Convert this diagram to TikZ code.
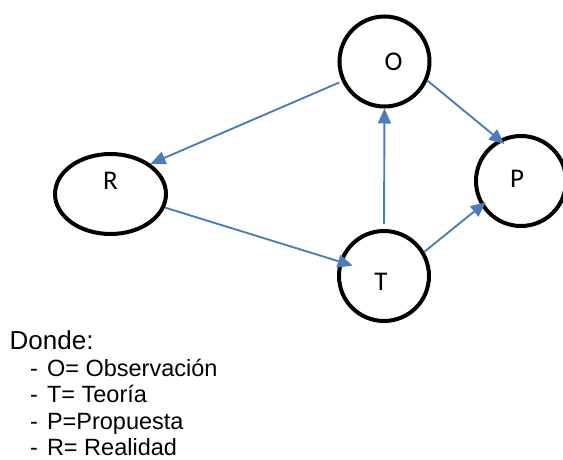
\documentclass[tikz,border=0pt]{standalone}
\usepackage{fontspec}
\setmainfont{Liberation Sans}
\newfontfamily\labelfont{Carlito}
\usetikzlibrary{shapes.geometric,arrows.meta}
\definecolor{linkblue}{HTML}{4A7EBB}

\begin{document}
\begin{tikzpicture}[x=1pt,y=-1pt,
state/.style={draw, line width=4pt, inner sep=0pt},
ring/.style={state, circle, minimum size=90pt},
oval/.style={state, ellipse, minimum width=111pt, minimum height=80pt},
tag/.style={font=\labelfont\fontsize{27}{30}\selectfont, inner sep=0pt},
link/.style={draw=linkblue, line width=1.9pt, -{Triangle[length=15pt,width=13pt,fill=linkblue]}},
item/.style={anchor=base west, inner sep=0pt, font=\fontsize{23.5}{27}\selectfont}]

\useasboundingbox (0,0) rectangle (563,460);

\node[ring, label={[tag, xshift=9pt]center:O}] (O) at (384.5,61.5) {};
\node[ring, label={[tag, xshift=-4pt, yshift=2pt]center:P}] (P) at (521,181) {};
\node[ring, label={[tag, xshift=-3pt, yshift=-6pt]center:T}] (T) at (384,276) {};
\node[oval, label={[tag, yshift=13pt]center:R}] (R) at (110.5,194) {};

\draw[link, shorten <=3pt] (O.205) -- (R.37);
\draw[link, shorten >=-14pt] (R.346) -- (T.162);
\draw[link, shorten <=5pt] (T.north) -- (O.south);
\draw[link, shorten >=-7pt] (O.336) -- (P.118);
\draw[link, shorten >=-6pt] (T.31) -- (P.212);

% leyenda
\node[anchor=base west, inner sep=0pt, font=\fontsize{26}{30}\selectfont] (donde) at (9.5,349) {Donde:};
\foreach \txt [count=\i] in {O= Observación, T= Teoría, P=Propuesta, R= Realidad}
  \node[item] (item\i) at (30,349.5+26.5*\i) {-\hspace{9pt}\txt};
\end{tikzpicture}
\end{document}
